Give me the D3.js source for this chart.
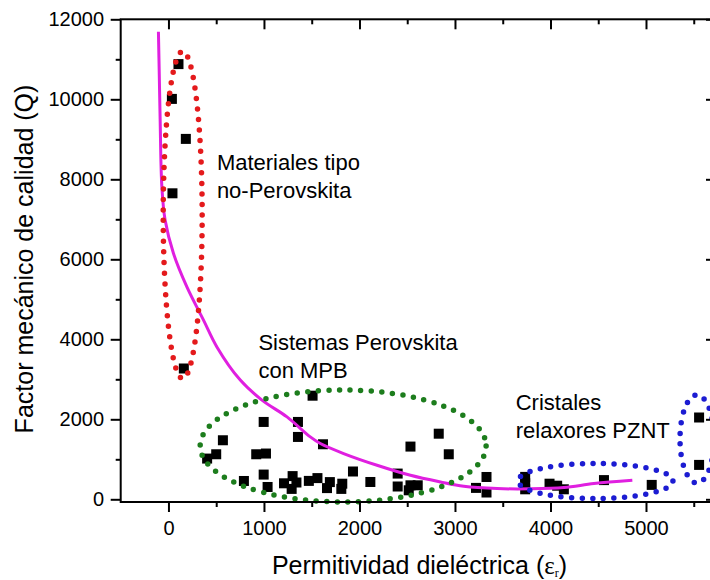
<!DOCTYPE html>
<html><head><meta charset="utf-8">
<script src="https://cdn.jsdelivr.net/npm/d3@7"></script>
<style>
body{margin:0;background:#fff}
svg{display:block}
text{font-family:"Liberation Sans",Arial,sans-serif;fill:#000}
</style>
</head><body>
<svg id="chart" width="710" height="580"></svg>
<script>
// ---- data ----
const xTicksMajor = [0, 1000, 2000, 3000, 4000, 5000];
const xTicksMinor = [500, 1500, 2500, 3500, 4500, 5500];
const yTicksMajor = [0, 2000, 4000, 6000, 8000, 10000, 12000];
const yTicksMinor = [1000, 3000, 5000, 7000, 9000, 11000];

// [permitividad, Q]
const nonPerovskite = [[105,10880],[36,10010],[182,9010],[42,7650],[161,3270]];
const mpbSystems = [
  [405,1018],[500,1126],[570,1476],[790,458],[919,1126],[1021,1144],[997,1934],[997,618],
  [1038,308],[1210,400],[1300,580],[1290,260],[1340,420],[1356,1934],[1356,1559],[1509,2590],
  [1470,460],[1560,530],[1618,1376],[1690,430],[1660,280],[1820,390],[1810,260],[1932,695],
  [2114,433],[2400,643],[2400,320],[2534,1318],[2534,350],[2516,225],[2610,350],[2830,1640],
  [2935,1126],[3220,285],[3330,558],[3330,170]
];
const pzntCrystals = [
  [3735,560],[3735,400],[3735,250],[3990,390],[4070,340],[4140,250],[4560,480],[5060,360],
  [5556,2045],[5556,860]
];
const fitCurve = [
  [-105,11690],[-96,10600],[-87,9485],[-69,7815],[-35,6980],[52,6150],[193,5310],[367,4480],
  [507,3810],[752,2980],[979,2480],[1241,2060],[1485,1560],[1590,1394],[1834,1144],[2184,851],
  [2534,600],[2848,433],[3092,325],[3442,268],[3791,262],[4141,293],[4455,393],[4857,475]
];
// group outlines: centre and half-axes in data units
const groupNames = ["nonPerovskite", "mpb", "pznt", "pzntBig"];
const groupCentres = [[149,7108],[1829,1333],[4471,458],[5534,1508]];
const groupHalfAxes = [[204,4088],[1497,1400],[811,438],[178,1100]];
const groupLabels = [
  {lines:["Materiales tipo","no-Perovskita"], at:[507,8232]},
  {lines:["Sistemas Perovskita","con MPB"], at:[942,3732]},
  {lines:["Cristales","relaxores PZNT"], at:[3636,2232]}
];
const xTitle = "Permitividad dieléctrica (";
const yTitle = "Factor mecánico de calidad (Q)";

// ---- layout & styles ----
const groupColors = {nonPerovskite:"#e41a1c", mpb:"#1d7d1d", pznt:"#1c1cd2", pzntBig:"#1c1cd2"};
const curveColor = "#e01fe0";
const svg = d3.select("#chart");
const mLeft = 120.7, mRight = 716, mTop = 19.3, mBottom = 502;
const x = d3.scaleLinear().domain([-500, 5733]).range([mLeft, mRight]);
const y = d3.scaleLinear().domain([-67.5, 12000]).range([mBottom, mTop]);

// scatter squares
const allPoints = nonPerovskite.concat(mpbSystems, pzntCrystals);
const sq = 10;
svg.append("g").selectAll("rect").data(allPoints).join("rect")
  .attr("x", d => x(d[0]) - sq/2).attr("y", d => y(d[1]) - sq/2)
  .attr("width", sq).attr("height", sq).attr("fill", "#000");

// fit curve
svg.append("path").datum(fitCurve)
  .attr("d", d3.line().x(d => x(d[0])).y(d => y(d[1])).curve(d3.curveCatmullRom.alpha(0.5)))
  .attr("fill", "none").attr("stroke", curveColor).attr("stroke-width", 3);

// dotted outlines
svg.append("g").selectAll("ellipse").data(groupNames).join("ellipse")
  .attr("cx", (d,i) => x(groupCentres[i][0]))
  .attr("cy", (d,i) => y(groupCentres[i][1]))
  .attr("rx", (d,i) => x(groupCentres[i][0] + groupHalfAxes[i][0]) - x(groupCentres[i][0]))
  .attr("ry", (d,i) => y(groupCentres[i][1]) - y(groupCentres[i][1] + groupHalfAxes[i][1]))
  .attr("fill", "none")
  .attr("stroke", d => groupColors[d])
  .attr("stroke-width", 5.5)
  .attr("stroke-linecap", "round")
  .attr("stroke-dasharray", "0 10.6");

// group labels
groupLabels.forEach(g => {
  const t = svg.append("text").attr("x", x(g.at[0])).attr("y", y(g.at[1]))
    .style("font-size", "22px");
  g.lines.forEach((l, i) => t.append("tspan").attr("x", x(g.at[0])).attr("dy", i ? 27.8 : 0).text(l));
});

// axes
const axG = svg.append("g");
function addAxis(gen, tr, vals, size, labels, pad) {
  const g = axG.append("g").attr("transform", tr)
    .call(gen.tickValues(vals).tickSize(size).tickPadding(pad).tickFormat(labels ? d3.format("d") : ""));
  g.select(".domain").remove();
  g.selectAll(".tick line").attr("stroke", "#000").attr("stroke-width", 2);
  g.selectAll(".tick text").style("font-size", "20px").attr("font-family", null).attr("fill", "#000");
  return g;
}
addAxis(d3.axisBottom(x), `translate(0,${mBottom})`, xTicksMajor, 10, true, 9);
addAxis(d3.axisBottom(x), `translate(0,${mBottom})`, xTicksMinor, 5, false, 3);
addAxis(d3.axisTop(x), `translate(0,${mTop})`, xTicksMajor, -10, false, 3);
addAxis(d3.axisTop(x), `translate(0,${mTop})`, xTicksMinor, -5, false, 3);
addAxis(d3.axisLeft(y), `translate(${mLeft},0)`, yTicksMajor, 10, true, 6.7);
addAxis(d3.axisLeft(y), `translate(${mLeft},0)`, yTicksMinor, 5, false, 3);
addAxis(d3.axisRight(y), `translate(${mRight},0)`, yTicksMajor, -10, false, 3);
addAxis(d3.axisRight(y), `translate(${mRight},0)`, yTicksMinor, -5, false, 3);
axG.append("rect").attr("x", mLeft).attr("y", mTop).attr("width", mRight - mLeft).attr("height", mBottom - mTop)
  .attr("fill", "none").attr("stroke", "#000").attr("stroke-width", 2);

// titles
const xt = svg.append("text").attr("x", 419.5).attr("y", 574).attr("text-anchor", "middle")
  .style("font-size", "25px").text(xTitle);
xt.append("tspan").style("font-family", "'Liberation Serif',serif").text("ε");
xt.append("tspan").attr("dy", 2.5).style("font-size", "12px").style("font-family", "'Liberation Serif',serif").text("r");
xt.append("tspan").attr("dy", -2.5).text(")");
svg.append("text").attr("transform", "translate(33,259) rotate(-90)").attr("text-anchor", "middle")
  .style("font-size", "25px").text(yTitle);
</script>
</body></html>
